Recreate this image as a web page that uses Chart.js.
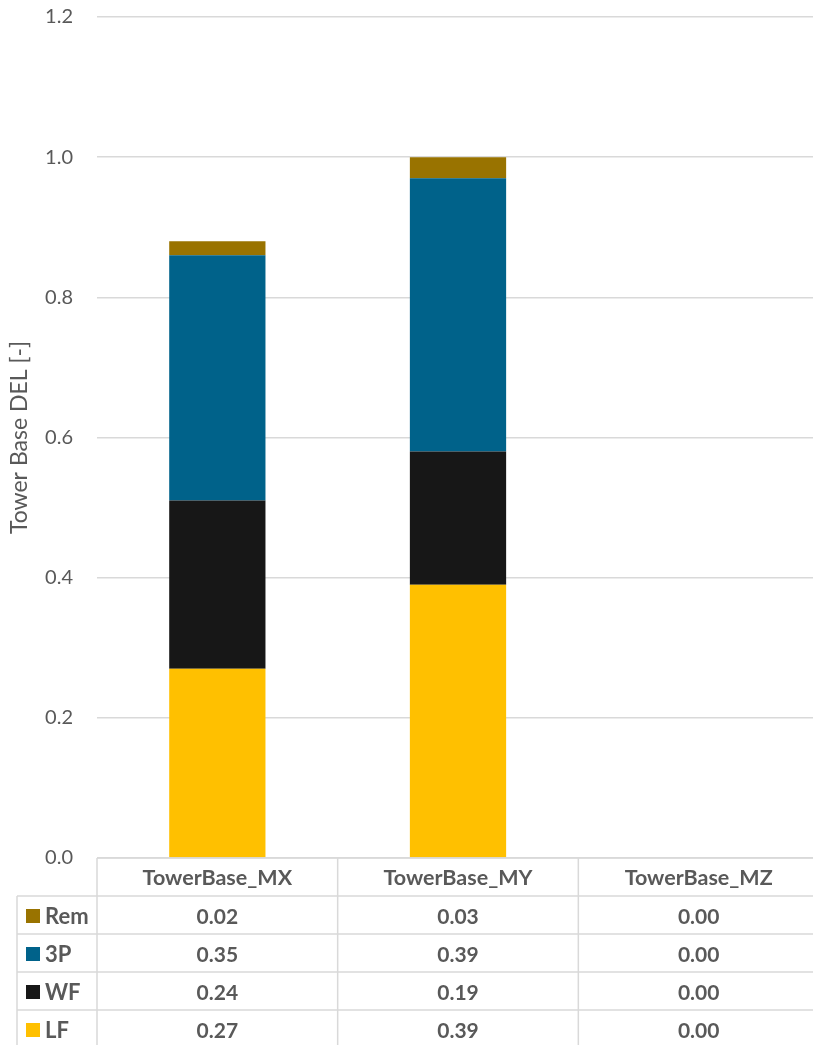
<!DOCTYPE html>
<html>
<head>
<meta charset="utf-8">
<script src="https://cdn.jsdelivr.net/npm/chart.js@4/dist/chart.umd.min.js"></script>
<style>
  html, body { margin: 0; padding: 0; background: #ffffff; overflow: hidden; }
  #wrap { width: 813px; height: 1045px; position: relative; overflow: hidden; }
</style>
</head>
<body>
<div id="wrap"><canvas id="c" width="819" height="1045"></canvas></div>
<script>
// Tower base damage-equivalent loads, split by contribution
const categories = ['TowerBase_MX', 'TowerBase_MY', 'TowerBase_MZ'];
const seriesNames = ['LF', 'WF', '3P', 'Rem'];
const lfValues  = [0.27, 0.39, 0.00];
const wfValues  = [0.24, 0.19, 0.00];
const p3Values  = [0.35, 0.39, 0.00];
const remValues = [0.02, 0.03, 0.00];
const seriesColors = ['#FFC000', '#171717', '#00628A', '#997300'];
const yTicks = [0.0, 0.2, 0.4, 0.6, 0.8, 1.0, 1.2];

const TEXT = '#595959';
const LINE = '#d9d9d9';
const FONT = 'Lato, "Open Sans", sans-serif';

const seriesValues = [lfValues, wfValues, p3Values, remValues];

// Data table drawn underneath the plot, aligned with the category columns
const dataTable = {
  id: 'dataTable',
  afterDraw(chart) {
    const ctx = chart.ctx;
    const area = chart.chartArea;
    const xs = chart.scales.x;
    const rowH = 38;
    const legendLeft = 17;
    const top = area.bottom;
    const bottom = chart.height + 10;
    const centers = categories.map((_, i) => xs.getPixelForValue(i));
    const bounds = [area.left];
    for (let i = 0; i < centers.length - 1; i++) bounds.push((centers[i] + centers[i + 1]) / 2);
    bounds.push(area.right);

    ctx.save();
    ctx.strokeStyle = LINE;
    ctx.lineWidth = 1.5;
    // horizontal rules
    ctx.beginPath();
    ctx.moveTo(area.left, top); ctx.lineTo(chart.width, top);
    for (let r = 1; r <= seriesNames.length; r++) {
      const y = top + r * rowH;
      ctx.moveTo(legendLeft, y); ctx.lineTo(chart.width, y);
    }
    // vertical rules
    ctx.moveTo(legendLeft, top + rowH); ctx.lineTo(legendLeft, bottom);
    for (let b = 0; b < bounds.length - 1; b++) {
      ctx.moveTo(bounds[b], top); ctx.lineTo(bounds[b], bottom);
    }
    ctx.stroke();

    ctx.fillStyle = TEXT;
    ctx.textBaseline = 'middle';
    ctx.textAlign = 'center';
    ctx.font = 'bold 21.5px ' + FONT;
    categories.forEach((c, i) => ctx.fillText(c, centers[i], top + rowH / 2 + 1));

    // rows listed top-down in reverse stacking order
    const order = [3, 2, 1, 0];
    order.forEach((s, r) => {
      const yMid = top + (r + 1) * rowH + rowH / 2 + 1;
      ctx.fillStyle = seriesColors[s];
      ctx.fillRect(26, yMid - 7, 14, 14);
      ctx.fillStyle = TEXT;
      ctx.font = 'bold 22px ' + FONT;
      ctx.textAlign = 'left';
      ctx.fillText(seriesNames[s], 45, yMid + 1);
      ctx.font = 'bold 21px ' + FONT;
      ctx.textAlign = 'center';
      seriesValues[s].forEach((v, i) => ctx.fillText(v.toFixed(2), centers[i], yMid + 1));
    });
    ctx.restore();
  }
};

new Chart(document.getElementById('c'), {
  type: 'bar',
  data: {
    labels: categories,
    datasets: seriesNames.map((name, i) => ({
      label: name,
      data: seriesValues[i],
      backgroundColor: seriesColors[i],
      borderWidth: 0,
      barPercentage: 0.4,
      categoryPercentage: 1.0
    }))
  },
  options: {
    responsive: false,
    animation: false,
    devicePixelRatio: 1,
    layout: { padding: { top: 17, bottom: 187, left: 0, right: 0 } },
    plugins: {
      legend: { display: false },
      tooltip: { enabled: false }
    },
    scales: {
      x: {
        stacked: true,
        display: false
      },
      y: {
        stacked: true,
        min: 0,
        max: 1.2,
        afterFit(scale) { scale.width = 97; },
        afterBuildTicks(scale) { scale.ticks = yTicks.map(v => ({ value: v })); },
        border: { display: false },
        grid: { color: LINE, lineWidth: 1.5, drawTicks: true, tickLength: 24, tickColor: 'rgba(0,0,0,0)' },
        ticks: {
          padding: 0,
          color: TEXT,
          font: { family: FONT, size: 20 },
          callback: v => Number(v).toFixed(1)
        },
        title: {
          display: true,
          text: 'Tower Base DEL [-]',
          color: TEXT,
          font: { family: FONT, size: 23 },
          padding: { top: 6, bottom: 0 }
        }
      }
    }
  },
  plugins: [dataTable]
});
</script>
</body>
</html>
